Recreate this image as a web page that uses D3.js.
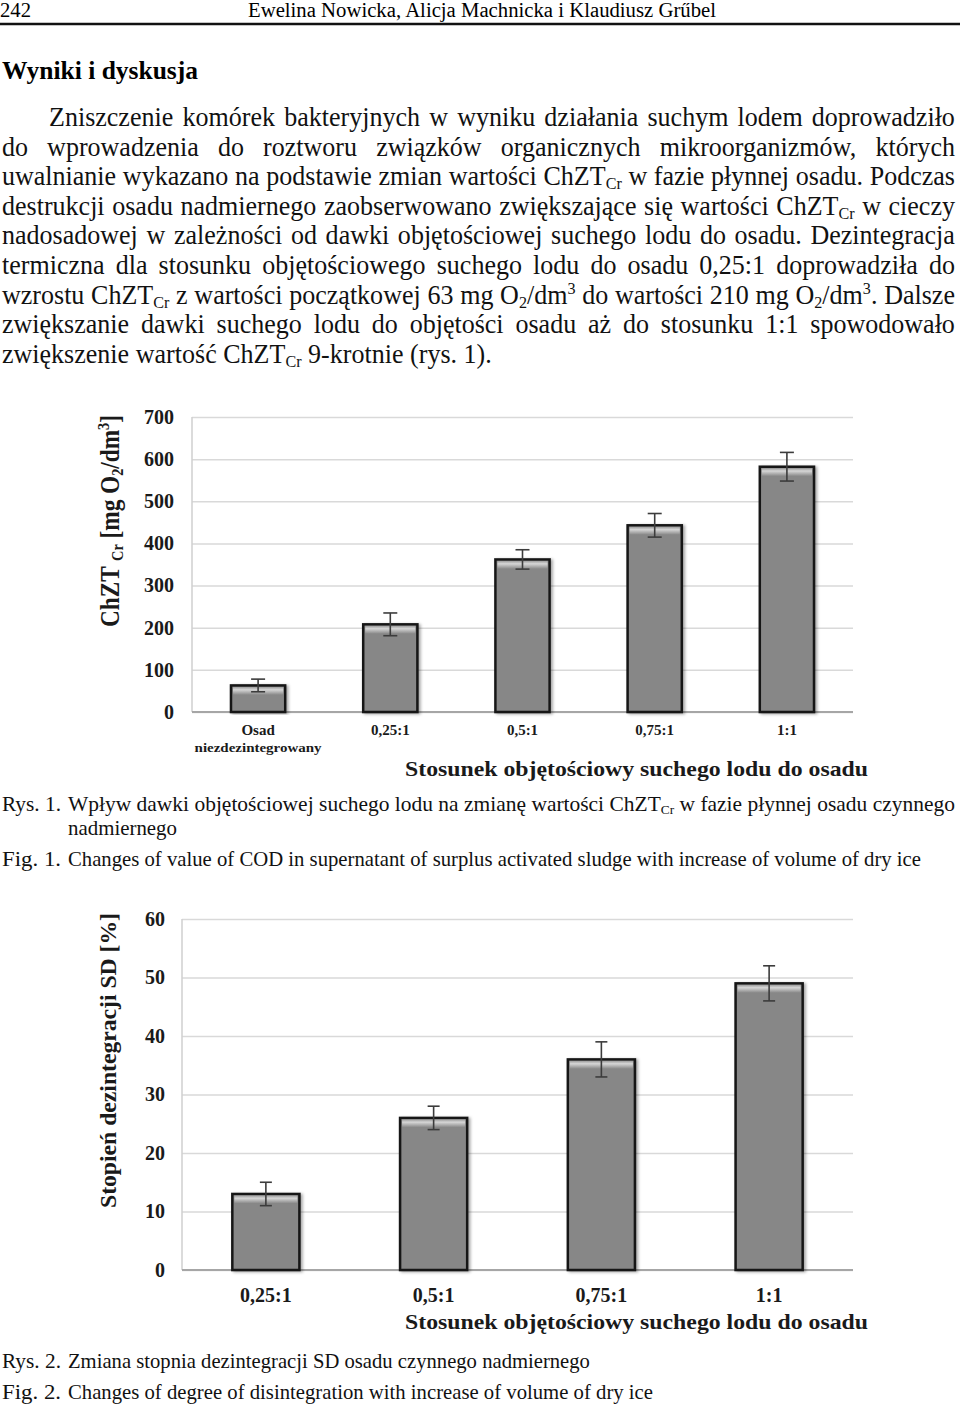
<!DOCTYPE html>
<html>
<head>
<meta charset="utf-8">
<script src="https://cdn.jsdelivr.net/npm/d3@7"></script>
<style>
  body { margin: 0; background: #fff; }
</style>
</head>
<body>
<div id="page"></div>
<script>
// ---- data ----
const fig1Categories = ["Osad\nniezdezintegrowany", "0,25:1", "0,5:1", "0,75:1", "1:1"];
const fig1Values = [63, 208, 362, 443, 582];
const fig1Errors = [15, 27, 23, 28, 34];
const fig1Ticks = [0, 100, 200, 300, 400, 500, 600, 700];

const fig2Categories = ["0,25:1", "0,5:1", "0,75:1", "1:1"];
const fig2Values = [13, 26, 36, 49];
const fig2Errors = [2, 2, 3, 3];
const fig2Ticks = [0, 10, 20, 30, 40, 50, 60];

// body text, _{..} = subscript, ^{..} = superscript
const bodyLines = [
  "Zniszczenie komórek bakteryjnych w wyniku działania suchym lodem doprowadziło",
  "do wprowadzenia do roztworu związków organicznych mikroorganizmów, których",
  "uwalnianie wykazano na podstawie zmian wartości ChZT_{Cr} w fazie płynnej osadu. Podczas",
  "destrukcji osadu nadmiernego zaobserwowano zwiększające się wartości ChZT_{Cr} w cieczy",
  "nadosadowej w zależności od dawki objętościowej suchego lodu do osadu. Dezintegracja",
  "termiczna dla stosunku objętościowego suchego lodu do osadu 0,25:1 doprowadziła do",
  "wzrostu ChZT_{Cr} z wartości początkowej 63 mg O_{2}/dm^{3} do wartości 210 mg O_{2}/dm^{3}. Dalsze",
  "zwiększanie dawki suchego lodu do objętości osadu aż do stosunku 1:1 spowodowało",
  "zwiększenie wartość ChZT_{Cr} 9-krotnie (rys. 1)."
];

const FONT = "'Liberation Serif', 'Times New Roman', serif";
const width = 960;
const height = 1408;

const svg = d3.select("#page")
  .append("svg")
  .attr("width", width)
  .attr("height", height)
  .style("background", "#fff");

const defs = svg.append("defs");
const grad = defs.append("linearGradient")
  .attr("id", "barTop")
  .attr("x1", 0).attr("y1", 0).attr("x2", 0).attr("y2", 1);
grad.append("stop").attr("offset", "0%").attr("stop-color", "#9c9c9c");
grad.append("stop").attr("offset", "35%").attr("stop-color", "#d6d6d6");
grad.append("stop").attr("offset", "100%").attr("stop-color", "#878787");

const shadow = defs.append("filter").attr("id", "shadow")
  .attr("x", "-20%").attr("y", "-10%").attr("width", "140%").attr("height", "120%");
shadow.append("feDropShadow")
  .attr("dx", 2).attr("dy", 1).attr("stdDeviation", 1.5)
  .attr("flood-color", "#000").attr("flood-opacity", 0.35);

// ---- text helpers ----
function parseWord(str) {
  return str.split(/(_\{[^}]*\}|\^\{[^}]*\})/).filter(s => s.length).map(p => {
    if (p.startsWith("_{")) return {t: p.slice(2, -1), k: "sub"};
    if (p.startsWith("^{")) return {t: p.slice(2, -1), k: "sup"};
    return {t: p, k: "n"};
  });
}

function richText(sel, str, fs) {
  let shift = 0;
  parseWord(str).forEach(seg => {
    const target = seg.k === "sub" ? fs * 0.14 : seg.k === "sup" ? -fs * 0.36 : 0;
    sel.append("tspan")
      .attr("dy", target - shift)
      .attr("font-size", seg.k === "n" ? fs : fs * 0.62)
      .text(seg.t);
    shift = target;
  });
}

// place words of a line one by one, so justified lines widen the gaps only
function drawLine(g, text, opt) {
  const words = text.split(" ");
  const nodes = words.map(w => {
    const t = g.append("text")
      .attr("font-family", FONT)
      .attr("font-weight", opt.weight || "normal")
      .attr("fill", "#111");
    richText(t, w, opt.fs);
    return t;
  });
  const widths = nodes.map(t => t.node().getComputedTextLength());
  const sum = d3.sum(widths);
  const space = opt.fs * 0.25;
  let sx = opt.sx || 1;
  let gap = space * sx;
  if (opt.mode === "justify" && words.length > 1) {
    gap = (opt.x1 - opt.x0 - sum * sx) / (words.length - 1);
  }
  if (opt.mode === "fit") {
    sx = (opt.x1 - opt.x0) / (sum + space * (words.length - 1));
    gap = space * sx;
  }
  let x = opt.x0;
  nodes.forEach((t, i) => {
    t.attr("transform", `translate(${x},${opt.y}) scale(${sx},1)`);
    x += widths[i] * sx + gap;
  });
}

// ---- page header ----
const page = svg.append("g");
page.append("text")
  .attr("x", 0).attr("y", 17)
  .attr("font-family", FONT).attr("font-size", 20)
  .attr("textLength", 31).attr("lengthAdjust", "spacingAndGlyphs")
  .text("242");
page.append("text")
  .attr("x", 248).attr("y", 17)
  .attr("font-family", FONT).attr("font-size", 20)
  .attr("textLength", 468).attr("lengthAdjust", "spacingAndGlyphs")
  .text("Ewelina Nowicka, Alicja Machnicka i Klaudiusz Grűbel");
page.append("line")
  .attr("x1", 0).attr("x2", width)
  .attr("y1", 24).attr("y2", 24)
  .attr("stroke", "#111").attr("stroke-width", 2.5);
page.append("text")
  .attr("x", 2).attr("y", 79)
  .attr("font-family", FONT).attr("font-size", 25).attr("font-weight", "bold")
  .attr("textLength", 196).attr("lengthAdjust", "spacingAndGlyphs")
  .text("Wyniki i dyskusja");

// ---- paragraph ----
bodyLines.forEach((line, i) => {
  drawLine(page, line, {
    x0: i === 0 ? 49 : 2,
    x1: 955,
    y: 126 + i * 29.6,
    fs: 28,
    sx: 0.93,
    mode: i === bodyLines.length - 1 ? "left" : "justify"
  });
});

// ---- captions ----
function caption(label, lines, y0) {
  drawLine(page, label, {x0: 2, x1: 61, y: y0, fs: 21, mode: "fit"});
  lines.forEach((l, i) => {
    drawLine(page, l.text, {x0: 68, x1: l.x1, y: y0 + i * 24, fs: 21, mode: "fit"});
  });
}
caption("Rys. 1.", [
  {text: "Wpływ dawki objętościowej suchego lodu na zmianę wartości ChZT_{Cr} w fazie płynnej osadu czynnego", x1: 955},
  {text: "nadmiernego", x1: 177}
], 811);
caption("Fig. 1.", [
  {text: "Changes of value of COD in supernatant of surplus activated sludge with increase of volume of dry ice", x1: 921}
], 866);
caption("Rys. 2.", [
  {text: "Zmiana stopnia dezintegracji SD osadu czynnego nadmiernego", x1: 590}
], 1368);
caption("Fig. 2.", [
  {text: "Changes of degree of disintegration with increase of volume of dry ice", x1: 653}
], 1399);

// ---- bar charts ----
function createBarChart(cfg) {
  const g = svg.append("g");

  const x = d3.scaleBand()
    .domain(cfg.categories)
    .range([cfg.left, cfg.right])
    .paddingInner(cfg.pad)
    .paddingOuter(cfg.pad / 2);

  const y = d3.scaleLinear()
    .domain([0, d3.max(cfg.ticks)])
    .range([cfg.bottom, cfg.top]);

  // gridlines + tick labels
  const yAxis = d3.axisLeft(y)
    .tickValues(cfg.ticks)
    .tickSize(-(cfg.right - cfg.left))
    .tickPadding(cfg.tickPad);

  const ya = g.append("g")
    .attr("transform", `translate(${cfg.left},0)`)
    .call(yAxis);
  ya.select(".domain").remove();
  ya.selectAll(".tick line")
    .attr("stroke", "#d9d9d9")
    .attr("stroke-width", 1.5);
  ya.selectAll(".tick text")
    .attr("fill", "#1a1a1a")
    .attr("font-family", FONT)
    .attr("font-weight", "bold")
    .attr("font-size", cfg.tickFont);

  // left and bottom axis lines
  g.append("line")
    .attr("x1", cfg.left).attr("x2", cfg.left)
    .attr("y1", y(d3.max(cfg.ticks))).attr("y2", y(0))
    .attr("stroke", "#cfcfcf").attr("stroke-width", 1.5);
  g.append("line")
    .attr("x1", cfg.left).attr("x2", cfg.right)
    .attr("y1", y(0)).attr("y2", y(0))
    .attr("stroke", "#a6a6a6").attr("stroke-width", 2);

  const data = cfg.categories.map((c, i) => ({c, v: cfg.values[i], e: cfg.errors[i]}));

  // bars
  const bars = g.append("g").selectAll("g")
    .data(data)
    .join("g");

  bars.append("rect")
    .attr("x", d => x(d.c))
    .attr("y", d => y(d.v))
    .attr("width", x.bandwidth())
    .attr("height", d => y(0) - y(d.v))
    .attr("fill", "#878787")
    .attr("stroke", "#151515")
    .attr("stroke-width", 2.5)
    .attr("filter", "url(#shadow)");

  bars.append("rect")
    .attr("x", d => x(d.c) + 2)
    .attr("y", d => y(d.v) + 1.5)
    .attr("width", x.bandwidth() - 4)
    .attr("height", 8)
    .attr("fill", "url(#barTop)");

  // error bars
  const cx = d => x(d.c) + x.bandwidth() / 2;
  const err = g.append("g")
    .attr("stroke", "#3c3c3c")
    .attr("stroke-width", 1.6);
  err.selectAll(".stem").data(data).join("line")
    .attr("x1", cx).attr("x2", cx)
    .attr("y1", d => y(d.v + d.e)).attr("y2", d => y(d.v - d.e));
  err.selectAll(".capTop").data(data).join("line")
    .attr("x1", d => cx(d) - cfg.cap / 2).attr("x2", d => cx(d) + cfg.cap / 2)
    .attr("y1", d => y(d.v + d.e)).attr("y2", d => y(d.v + d.e));
  err.selectAll(".capBot").data(data).join("line")
    .attr("x1", d => cx(d) - cfg.cap / 2).attr("x2", d => cx(d) + cfg.cap / 2)
    .attr("y1", d => y(d.v - d.e)).attr("y2", d => y(d.v - d.e));

  // category labels
  data.forEach(d => {
    const parts = d.c.split("\n");
    parts.forEach((p, k) => {
      const t = g.append("text")
        .attr("x", cx(d))
        .attr("y", cfg.catY + k * 17)
        .attr("text-anchor", "middle")
        .attr("font-family", FONT)
        .attr("font-weight", "bold")
        .attr("font-size", k === 0 ? cfg.catFont : cfg.catFont - 1.5)
        .attr("fill", "#1a1a1a")
        .text(p);
      if (k > 0) t.attr("textLength", 127).attr("lengthAdjust", "spacingAndGlyphs");
    });
  });

  // y title
  const yt = g.append("text")
    .attr("transform", `translate(${cfg.yTitleX},${cfg.yTitleY}) rotate(-90)`)
    .attr("font-family", FONT)
    .attr("font-weight", "bold")
    .attr("fill", "#1a1a1a")
    .attr("textLength", cfg.yTitleLen)
    .attr("lengthAdjust", "spacingAndGlyphs");
  richText(yt, cfg.yTitle, cfg.yTitleFont);

  // x title
  g.append("text")
    .attr("x", 405)
    .attr("y", cfg.xTitleY)
    .attr("font-family", FONT)
    .attr("font-weight", "bold")
    .attr("font-size", 22)
    .attr("fill", "#1a1a1a")
    .attr("textLength", 463)
    .attr("lengthAdjust", "spacingAndGlyphs")
    .text("Stosunek objętościowy suchego lodu do osadu");
}

createBarChart({
  categories: fig1Categories, values: fig1Values, errors: fig1Errors, ticks: fig1Ticks,
  left: 192, right: 853, top: 417, bottom: 712, pad: 0.59,
  tickPad: 18, tickFont: 20, cap: 14,
  catY: 735, catFont: 15,
  yTitle: "ChZT _{Cr} [mg O_{2}/dm^{3}]", yTitleX: 119, yTitleY: 627, yTitleLen: 212, yTitleFont: 28,
  xTitleY: 776
});

createBarChart({
  categories: fig2Categories, values: fig2Values, errors: fig2Errors, ticks: fig2Ticks,
  left: 182, right: 853, top: 919, bottom: 1270, pad: 0.6,
  tickPad: 17, tickFont: 20, cap: 12,
  catY: 1302, catFont: 20,
  yTitle: "Stopień dezintegracji SD [%]", yTitleX: 116, yTitleY: 1208, yTitleLen: 295, yTitleFont: 24,
  xTitleY: 1329
});
</script>
</body>
</html>
